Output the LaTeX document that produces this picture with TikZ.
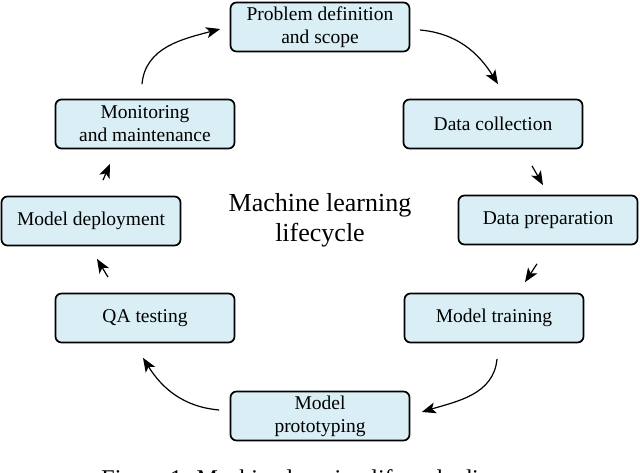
\documentclass[tikz,border=0pt]{standalone}
\usepackage{fontspec}
\setmainfont{Liberation Serif}
\usetikzlibrary{arrows.meta}
\definecolor{boxfill}{RGB}{217,238,245}
\tikzset{
  stage/.style={draw=black, line width=1.7pt, fill=boxfill, rounded corners=6pt,
    minimum width=179pt, minimum height=49pt, inner sep=0pt, align=center,
    font=\fontsize{19.5}{23}\selectfont},
  arr/.style={line width=1.2pt, -{Stealth[length=14pt,width=11pt,inset=3.5pt]}}
}
\begin{document}
\begin{tikzpicture}[x=1pt,y=1pt]
\useasboundingbox (0,0) rectangle (640,473);
\node[stage] (p)  at (320,446) {Problem definition\\and scope};
\node[stage] (dc) at (493,349) {Data collection};
\node[stage] (dp) at (548,253) {Data preparation};
\node[stage] (mt) at (494,155) {Model training};
\node[stage] (mp) at (320,57)  {Model\\prototyping};
\node[stage] (qa) at (145,155) {QA testing};
\node[stage] (md) at (91,252)  {Model deployment};
\node[stage] (mm) at (145,349) {Monitoring\\and maintenance};
\node[align=center, font=\fontsize{26}{30}\selectfont] (c) at (320,253) {Machine learning\\lifecycle};
\node[anchor=base, font=\fontsize{24}{28}\selectfont] (cap) at (320,-14) {Figure 1: Machine learning lifecycle diagram};
\draw[arr] ([shift={(9.5,-3)}]p.east) to[out=-5,in=122] ([shift={(5,14.5)}]dc.north);
\draw[arr] ([shift={(39,-16.5)}]dc.south) -- ([shift={(-5,9.5)}]dp.north);
\draw[arr] ([shift={(-11,-18.5)}]dp.south) -- ([shift={(31,10.5)}]mt.north);
\draw[arr] ([shift={(3,-15.5)}]mt.south) to[out=-95,in=17] ([shift={(11.5,4)}]mp.east);
\draw[arr] ([shift={(-10.5,6)}]mp.west) to[out=175,in=-58] ([shift={(-2,-14.5)}]qa.south);
\draw[arr] ([shift={(-37,15.5)}]qa.north) -- ([shift={(6,-12.5)}]md.south);
\draw[arr] ([shift={(12,15.5)}]md.north) -- ([shift={(-35,-14.5)}]mm.south);
\draw[arr] ([shift={(-3,14.5)}]mm.north) to[out=85,in=195] ([shift={(-9.5,-2)}]p.west);
\end{tikzpicture}
\end{document}
